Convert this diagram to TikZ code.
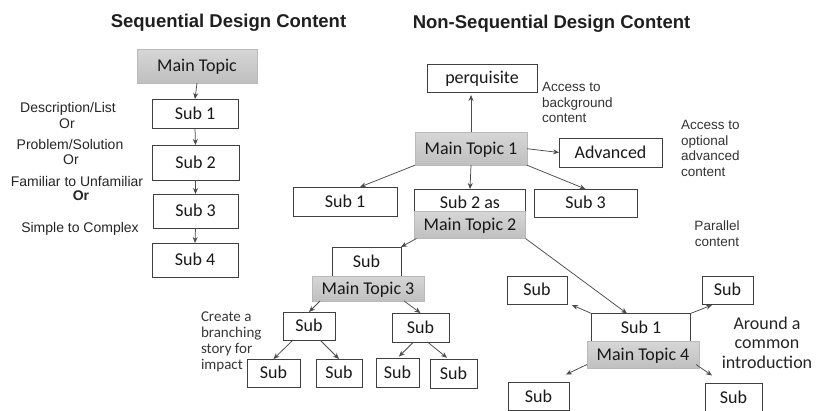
\documentclass[tikz,border=0pt]{standalone}
\usepackage{fontspec}
\setmainfont{Liberation Sans}
\newfontfamily\calfont{Carlito}
\usetikzlibrary{arrows.meta,calc}
\begin{document}
\begin{tikzpicture}[x=1pt,y=-1pt,
  every node/.style={inner sep=0pt,outer sep=0pt},
  box/.style={draw=black!75,fill=white,line width=0.8pt,
    font=\calfont\fontsize{18}{20}\selectfont,text=black!90,
    text height=14.6pt,text depth=3pt},
  topic/.style={box,draw=gray!55,top color=gray!32,bottom color=gray!50},
  link/.style={draw=black!70,line width=0.75pt,-{Stealth[length=6pt,width=5pt]}},
  heading/.style={font=\bfseries\fontsize{18.5}{22}\selectfont,text=black!88,anchor=base},
  note/.style={font=\fontsize{14}{16}\selectfont,text=black!85,anchor=base},
  remark/.style={font=\fontsize{13.5}{15.5}\selectfont,text=black!80,align=left,anchor=north west},
]
\fill[white] (0,0) rectangle (821,410);
\useasboundingbox (0,0) rectangle (821,410);

% ---- titles
\node[heading] (t1) at (228.5,27) {Sequential Design Content};
\node[heading] (t2) at (551.5,28) {Non-Sequential Design Content};

% ---- sequential chain
\node[topic,minimum width=120pt,minimum height=34pt] (smain) at (197,66) {Main Topic};
\node[box,minimum width=86pt,minimum height=29pt] (sa) at (195,113.5) {Sub 1};
\node[box,minimum width=87pt,minimum height=35pt] (sb) at (195.5,162.5) {Sub 2};
\node[box,minimum width=85pt,minimum height=34pt] (sc) at (195.5,211) {Sub 3};
\node[box,minimum width=86pt,minimum height=34pt] (sd) at (195,260) {Sub 4};
\draw[link] (smain.south) -- (sa.north);
\draw[link] (sa.south) -- (sb.north);
\draw[link] (sb.south) -- (sc.north);
\draw[link] (sc.south) -- (sd.north);

% ---- orderings for the chain
\node[note] (o1) at (68,112) {Description/List};
\node[note] (o2) at (67,128) {Or};
\node[note] (o3) at (70,149) {Problem/Solution};
\node[note] (o4) at (71,164) {Or};
\node[note] (o5) at (77,186) {Familiar to Unfamiliar};
\node[note,font=\bfseries\fontsize{14}{16}\selectfont] (o6) at (81,200) {Or};
\node[note] (o7) at (80,232) {Simple to Complex};

% ---- non-sequential: main topic 1
\node[box,minimum width=110pt,minimum height=28pt] (perq) at (482,78) {perquisite};
\node[topic,minimum width=112pt,minimum height=33pt] (mt1) at (471,148.7) {Main Topic 1};
\node[box,minimum width=103pt,minimum height=29pt] (adv) at (610.5,152.5) {Advanced};
\node[box,minimum width=104pt,minimum height=29pt] (na) at (345,201.5) {Sub 1};
\node[box,minimum width=111pt,text height=19.3pt,text depth=13.7pt,anchor=north] (nb) at (470,189) {Sub 2 as};
\node[topic,minimum width=111pt,minimum height=27pt] (mt2) at (470,225) {Main Topic 2};
\node[box,minimum width=103pt,minimum height=28pt] (nc) at (585.5,203) {Sub 3};

% ---- main topic 3 branch
\node[box,minimum width=69pt,text height=20.3pt,text depth=14.7pt,anchor=north] (tp) at (366.5,247) {Sub};
\node[topic,minimum width=112pt,minimum height=25pt] (mt3) at (368,288.5) {Main Topic 3};
\node[box,minimum width=52pt,minimum height=28pt] (ta) at (309,326) {Sub};
\node[box,minimum width=57pt,minimum height=29pt] (tb) at (420.5,327.5) {Sub};
\node[box,minimum width=53pt,minimum height=28pt] (tc) at (273.5,373) {Sub};
\node[box,minimum width=46pt,minimum height=28pt] (td) at (339,373) {Sub};
\node[box,minimum width=43pt,minimum height=29pt] (te) at (397.5,372.5) {Sub};
\node[box,minimum width=47pt,minimum height=29pt] (tf) at (453.5,373.5) {Sub};

% ---- main topic 4 hub
\node[box,minimum width=60pt,minimum height=28pt] (fa) at (537,290) {Sub};
\node[box,minimum width=51pt,minimum height=28pt] (fb) at (727.5,290) {Sub};
\node[box,minimum width=99pt,text height=20.3pt,text depth=16.7pt,anchor=north] (fq) at (641,313.5) {Sub 1};
\node[topic,minimum width=112pt,minimum height=27pt] (mt4) at (643,355) {Main Topic 4};
\node[box,minimum width=61pt,minimum height=28pt] (fc) at (538.5,396.5) {Sub};
\node[box,minimum width=57pt,minimum height=28pt] (fd) at (733.5,397.5) {Sub};

% ---- connectors
\draw[link,shorten >=3pt] (mt1.north) -- (mt1.north |- perq.south);
\draw[link] (mt1.east) -- (adv.west);
\draw[link] (mt1.south west) -- ($(na.north)+(15,0)$);
\draw[link] (mt1.south) -- (nb.north);
\draw[link] (mt1.south east) -- (nc.north);
\draw[link] ($(mt2.south west)+(2,0)$) -- (tp.north east);
\draw[link] (mt2.south east) -- ($(fq.north)+(-14,0)$);
\draw[link] ($(mt3.south west)+(8,0)$) -- (ta.north);
\draw[link] ($(mt3.south east)+(-20,0)$) -- (tb.north);
\draw[link] ($(ta.south)+(-16,0)$) -- (tc.north);
\draw[link] ($(ta.south)+(11,0)$) -- (td.north);
\draw[link,shorten >=2pt] ($(tb.south)+(-7,0)$) -- (te.north);
\draw[link,shorten >=2pt] ($(tb.south)+(7,0)$) -- ($(tf.north)+(-5,0)$);
\draw[link] (fq.north west) -- ($(fa.south east)+(5,1)$);
\draw[link] (fq.north east) -- ($(fb.south west)+(10,1)$);
\draw[link] ($(mt4.south west)+(0,-4)$) -- ($(fc.north east)+(-3,-8)$);
\draw[link] ($(mt4.south east)+(-3,-4)$) -- ($(fd.north west)+(7,-8)$);

% ---- side remarks
\node[remark] (r1) at (542,82.5) {Access to\\background\\content};
\node[remark] (r2) at (681,120.5) {Access to\\optional\\advanced\\content};
\node[remark,align=center,anchor=north] (r3) at (717,221) {Parallel\\content};
\node[font=\calfont\fontsize{15}{16}\selectfont,text=black!78,align=left,anchor=north west] (r4) at (201,311.5) {Create a\\branching\\story for\\impact};
\node[font=\calfont\fontsize{18}{19.5}\selectfont,text=black!85,align=center,anchor=north] (r5) at (767,316.5) {Around a\\common\\introduction};
\end{tikzpicture}
\end{document}
